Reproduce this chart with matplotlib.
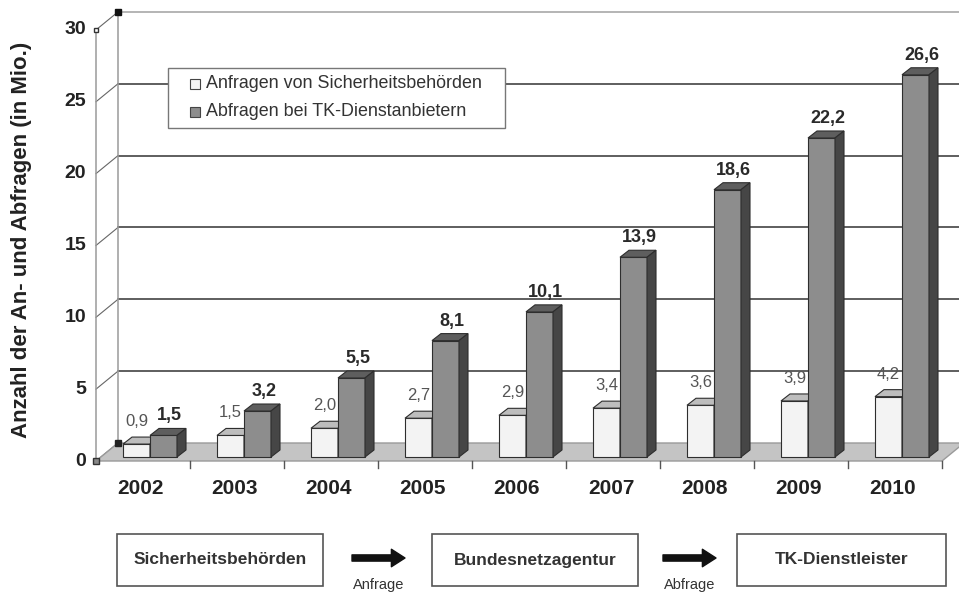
import matplotlib
matplotlib.use('Agg')
import matplotlib.pyplot as plt
from matplotlib.patches import Polygon, Rectangle

plt.rcParams['font.family'] = ['Liberation Sans', 'DejaVu Sans']

# ---------------- data ----------------
years = ['2002', '2003', '2004', '2005', '2006', '2007', '2008', '2009', '2010']
anfragen = [0.9, 1.5, 2.0, 2.7, 2.9, 3.4, 3.6, 3.9, 4.2]          # Anfragen von Sicherheitsbehörden
abfragen = [1.5, 3.2, 5.5, 8.1, 10.1, 13.9, 18.6, 22.2, 26.6]     # Abfragen bei TK-Dienstanbietern
yticks = [0, 5, 10, 15, 20, 25, 30]
series_names = ['Anfragen von Sicherheitsbehörden', 'Abfragen bei TK-Dienstanbietern']
ylabel = 'Anzahl der An- und Abfragen (in Mio.)'
flow_boxes = ['Sicherheitsbehörden', 'Bundesnetzagentur', 'TK-Dienstleister']
flow_arrows = ['Anfrage', 'Abfrage']

# ---------------- layout ----------------
W, H = 959, 593
fig = plt.figure(figsize=(W / 100, H / 100), dpi=100)
ax = fig.add_axes([0, 0, 1, 1])
PX_CAT = 94.0     # pixels per category
PX_UNIT = 14.37   # pixels per value unit
X0 = 143.0        # pixel x of first category centre
Y0 = 461.0        # pixel y of value 0 (front)
ax.set_xlim(-X0 / PX_CAT, (W - X0) / PX_CAT)
ax.set_ylim((Y0 - H) / PX_UNIT, Y0 / PX_UNIT)
ax.axis('off')

def fx(px):  # pixel length -> category units
    return px / PX_CAT

def fy(px):  # pixel length -> value units
    return px / PX_UNIT

n = len(years)
left, right = -0.5, n - 0.5
DX, DY = fx(22), fy(18)          # wall depth
BAR_W = fx(27)
BX, BY = fx(5), fy(4)            # bar offset from front
DDX, DDY = fx(9), fy(7)          # bar depth
GROUP_SHIFT = fx(2)
ymax = yticks[-1]

# floor
ax.add_patch(Polygon([(left, 0), (right, 0), (right + DX, DY), (left + DX, DY)],
                     closed=True, fc='#c4c4c4', ec='#9a9a9a', lw=1, zorder=1))
# back wall grid + side wall diagonals
for v in yticks:
    if v > 0:
        col = '#a0a0a0' if v == ymax else '#333333'
        ax.plot([left + DX, right + DX + 1], [v + DY, v + DY], color=col, lw=1.1, zorder=0.5)
    ax.plot([left, left + DX], [v, v + DY], color='#666666', lw=0.8, zorder=0.6)
    ax.text(left - fx(10), v, str(v), ha='right', va='center', fontsize=14,
            fontweight='bold', color='#222222')
# walls verticals
ax.plot([left, left], [0, ymax], color='#9a9a9a', lw=1.1, zorder=0.6)
ax.plot([left + DX, left + DX], [DY, ymax + DY], color='#9a9a9a', lw=1.1, zorder=0.6)
# corner markers
ax.plot([left + DX], [ymax + DY], marker='s', ms=4, color='#111111', zorder=2)
ax.plot([left], [ymax], marker='s', ms=3.5, mfc='white', mec='#333333', zorder=2)
ax.plot([left + DX], [DY], marker='s', ms=4, color='#222222', zorder=2)
ax.plot([left], [0], marker='s', ms=4, mfc='#888888', mec='#333333', zorder=2)

# front ticks + category labels
for k in range(1, n + 1):
    ax.plot([left + k, left + k], [0, -fy(7)], color='#555555', lw=1, zorder=1)
for i, yr in enumerate(years):
    ax.text(i - fx(2), -fy(28), yr, ha='center', va='center', fontsize=15,
            fontweight='bold', color='#222222')

# bars
xs = list(range(n))
white_left = [x + GROUP_SHIFT - BAR_W + BX for x in xs]
gray_left = [x + GROUP_SHIFT + BX for x in xs]

def bars3d(lefts, vals, face, top, side, z):
    ax.bar(lefts, vals, width=BAR_W, bottom=BY, align='edge', color=face,
           edgecolor='#2e2e2e', linewidth=0.8, zorder=z)
    for x0, h in zip(lefts, vals):
        x1 = x0 + BAR_W
        y0, y1 = BY, BY + h
        ax.add_patch(Polygon([(x0, y1), (x1, y1), (x1 + DDX, y1 + DDY), (x0 + DDX, y1 + DDY)],
                             closed=True, fc=top, ec='#2e2e2e', lw=0.8, zorder=z))
        ax.add_patch(Polygon([(x1, y0), (x1 + DDX, y0 + DDY), (x1 + DDX, y1 + DDY), (x1, y1)],
                             closed=True, fc=side, ec='#2e2e2e', lw=0.8, zorder=z))

bars3d(white_left, anfragen, '#f3f3f3', '#bdbdbd', '#9a9a9a', 3)
bars3d(gray_left, abfragen, '#8d8d8d', '#5e5e5e', '#464646', 4)

def fmt(v):
    return f'{v:.1f}'.replace('.', ',')

for x0, h in zip(white_left, anfragen):
    ax.text(x0 + BAR_W / 2, BY + h + DDY + fy(8), fmt(h), ha='center', va='bottom',
            fontsize=12, color='#555555', zorder=6)
for x0, h in zip(gray_left, abfragen):
    ax.text(x0 + BAR_W / 2 + DDX * 0.7, BY + h + DDY + fy(4), fmt(h), ha='center', va='bottom',
            fontsize=13, fontweight='bold', color='#2a2a2a', zorder=6)

# y label
fig.text(22 / W, 1 - 240 / H, ylabel, rotation=90, ha='center', va='center',
         fontsize=16, fontweight='bold', color='#222222')

# legend (manual box)
def fp(x, y):
    return (x / W, 1 - y / H)

fig.add_artist(Rectangle(fp(168, 128), (505 - 168) / W, (128 - 68) / H, transform=fig.transFigure,
                         fc='white', ec='#777777', lw=1, zorder=10))
for name, fc, yy in zip(series_names, ['#f3f3f3', '#8d8d8d'], [84, 112]):
    fig.add_artist(Rectangle(fp(190, yy + 5), 10 / W, 10 / H, transform=fig.transFigure,
                             fc=fc, ec='#444444', lw=0.8, zorder=11))
    fig.text(*fp(206, yy), name, ha='left', va='center', fontsize=12.9, color='#333333', zorder=11)

# flow chart
narrow = ['Liberation Sans Narrow', 'Liberation Sans', 'DejaVu Sans']
box_x = [(117, 323), (432, 638), (737, 946)]
for (x0, x1), label in zip(box_x, flow_boxes):
    fig.add_artist(Rectangle(fp(x0, 586), (x1 - x0) / W, 52 / H, transform=fig.transFigure,
                             fc='white', ec='#555555', lw=1.2))
    fig.text(*fp((x0 + x1) / 2, 560), label, ha='center', va='center', fontsize=12.5,
             fontweight='bold', color='#333333', family=narrow)
arrow_x = [(352, 405), (663, 716)]
for (a0, a1), label in zip(arrow_x, flow_arrows):
    ax.annotate('', xy=(a1, H - 558), xytext=(a0, H - 558), xycoords='figure pixels',
                textcoords='figure pixels',
                arrowprops=dict(arrowstyle='simple,head_length=0.7,head_width=0.9,tail_width=0.32',
                                mutation_scale=14, color='#111111', shrinkA=0, shrinkB=0))
    fig.text(*fp((a0 + a1) / 2, 585), label, ha='center', va='center', fontsize=10.5,
             color='#333333', family=narrow)

fig.savefig('out.png', dpi=100)
